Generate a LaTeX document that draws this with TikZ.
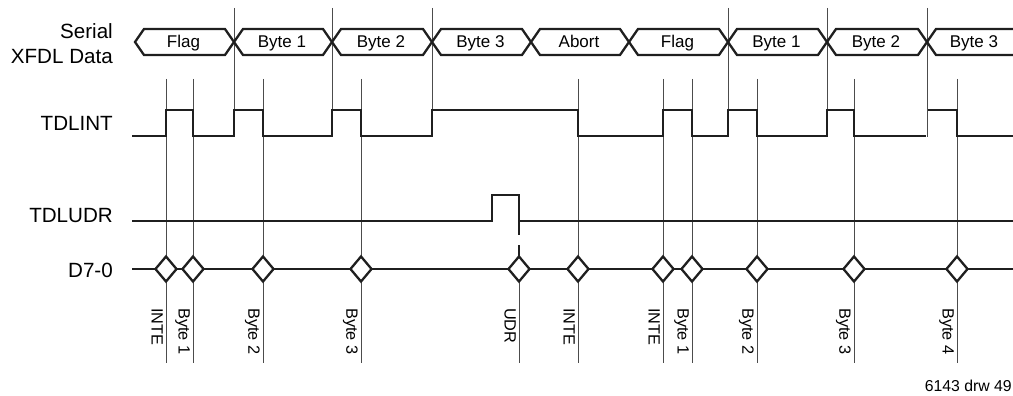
\documentclass[tikz,border=0pt]{standalone}
\usepackage{fontspec}
\setmainfont{Liberation Sans}
\usetikzlibrary{ positioning,       % For easy node-relative placements
                 shapes.geometric,  % For the diamonds
               }

\tikzset{
  sig/.style={line width=2.3pt, black!88},
  guide/.style={line width=0.8pt, black!70},
  side/.style={anchor=east, inner sep=0pt, font=\fontsize{20.6}{24}\selectfont},
  busl/.style={anchor=base, inner sep=0pt, font=\fontsize{17}{20}\selectfont},
  tick/.style={rotate=-90, anchor=north west, inner sep=0pt, font=\fontsize{16.3}{19}\selectfont},
  bit/.style={diamond, draw, sig, fill=white, inner sep=0pt, minimum width=22pt, minimum height=26pt},
}

\begin{document}
\begin{tikzpicture}[x=1pt, y=-1pt]
    \useasboundingbox (0,0) rectangle (1013,396);
    % signal names
    \node[side] (serial) at (113,31) {Serial};
    \node[side] (xfdl) at (113,57) {XFDL Data};
    \node[side] (tdlint) at (113,123) {TDLINT};
    \node[side] (tdludr) at (113,216) {TDLUDR};
    \node[side] (d70) at (113,270) {D7-0};
    % guide lines
    \foreach \x in {234,332,432,728,827,927}
      \draw[guide] (\x,8) -- (\x,137);
    \foreach \x in {166,193,263,361,578,663,692,757,854,957}
      \draw[guide] (\x,79) -- (\x,363);
    \draw[guide] (519,269) -- (519,363);
    % serial data
    \foreach \a/\b/\t [count=\i] in {135/234/Flag, 234/332/Byte 1, 332/432/Byte 2, 432/531/Byte 3,
                                    531/629/Abort, 629/728/Flag, 728/827/Byte 1, 827/927/Byte 2} {
      \draw[sig] (\a,42) -- (\a+9,29) -- (\b-9,29) -- (\b,42) -- (\b-9,55) -- (\a+9,55) -- cycle;
      \node[busl] (seg\i) at ({(\a+\b)/2-1},47.5) {\t};
    }
    \draw[sig] (1013,29) -- (936,29) -- (927,42) -- (936,55) -- (1013,55);
    \node[busl] (seg9) at (974,47.5) {Byte 3};
    % TDLINT
    \draw[sig] (132,136) -- (166,136) -- (166,110) -- (193,110) -- (193,136) -- (234,136)
      -- (234,110) -- (263,110) -- (263,136) -- (332,136) -- (332,110) -- (361,110)
      -- (361,136) -- (432,136) -- (432,110) -- (578,110) -- (578,136) -- (663,136)
      -- (663,110) -- (692,110) -- (692,136) -- (728,136) -- (728,110) -- (757,110)
      -- (757,136) -- (827,136) -- (827,110) -- (854,110) -- (854,136) -- (926,136);
    \draw[sig] (928,110) -- (957,110) -- (957,136) -- (1013,136);
    % TDLUDR
    \draw[sig] (132,221) -- (492,221) -- (492,195) -- (519,195) -- (519,221) -- (1013,221);
    \draw[sig, dash pattern=on 14pt off 10pt] (519,221) -- (519,257);
    % D7-0
    \draw[sig] (132,269) -- (1013,269);
    \foreach \x [count=\i] in {166,193,263,361,519,578,663,692,757,854,957}
      \node[bit] (bit\i) at (\x,269) {};
    \foreach \x/\t [count=\i] in {166/INTE, 193/Byte 1, 263/Byte 2, 361/Byte 3, 519/UDR, 578/INTE,
                                 663/INTE, 692/Byte 1, 757/Byte 2, 854/Byte 3, 957/Byte 4}
      \node[tick] (tick\i) at (\x-3,308) {\t};
    \node[anchor=east, inner sep=0pt, font=\fontsize{15.8}{19}\selectfont] (drw) at (1012,386) {6143 drw 49};
\end{tikzpicture}
\end{document}
